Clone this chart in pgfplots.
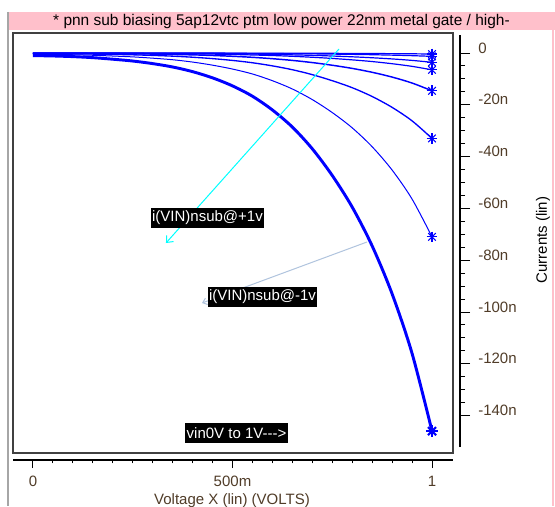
\documentclass[border=0pt]{standalone}
\usepackage{fontspec}
\setmainfont{Liberation Sans}
\usepackage{pgfplots}
\pgfplotsset{compat=1.18}
\usetikzlibrary{arrows.meta}
\definecolor{pinkbar}{RGB}{255,192,203}
\definecolor{lblcol}{RGB}{80,60,40}
\definecolor{steel}{RGB}{176,196,222}
\definecolor{cyanline}{RGB}{0,255,255}
\definecolor{pblue}{RGB}{0,0,255}
\newcommand{\fs}{\fontsize{11.25}{13}\selectfont}
\begin{document}
\begin{tikzpicture}
\clip (0,0) rectangle (416.25pt,-379.5pt);
\fill[white] (0,0) rectangle (416.25pt,-379.5pt);
\fill[pinkbar] (6pt,-9pt) rectangle (416.25pt,-22.5pt);
\draw[black!35, line width=1.5pt] (6.2pt,-9pt) -- (6.2pt,-379.5pt);
\draw[pinkbar, line width=1.5pt] (415pt,-22.5pt) -- (415pt,-379.5pt);
\node[anchor=base, inner sep=0pt] at (211.1pt,-19.5pt) {\fontsize{11.6}{13}\selectfont * pnn sub biasing 5ap12vtc ptm low power 22nm metal gate / high-};

% main plot box
\begin{axis}[at={(9.75pt,-339.75pt)}, anchor=south west, scale only axis,
  width=330pt, height=315pt,
  xmin=-0.0501, xmax=1.0526, ymin=-154.44, ymax=7.72,
  ticks=none, axis line style={draw=black!75, line width=1.2pt}]
\addplot[pblue, line width=0.9pt, smooth, tension=0.5] coordinates {(0,0)(0.2,-0.01)(0.4,-0.03)(0.6,-0.06)(0.7,-0.1)(0.8,-0.16)(0.9,-0.25)(0.95,-0.31)(1,-0.4)};
\addplot[pblue, line width=0.9pt, smooth, tension=0.5] coordinates {(0,-0.05)(0.2,-0.06)(0.4,-0.08)(0.5,-0.11)(0.6,-0.2)(0.7,-0.33)(0.8,-0.53)(0.85,-0.66)(0.9,-0.83)(0.95,-1.03)(1,-1.3)};
\addplot[pblue, line width=0.9pt, smooth, tension=0.5] coordinates {(0,-0.1)(0.2,-0.12)(0.4,-0.18)(0.5,-0.31)(0.6,-0.54)(0.7,-0.91)(0.75,-1.17)(0.8,-1.47)(0.85,-1.84)(0.9,-2.29)(0.95,-2.86)(1,-3.6)};
\addplot[pblue, line width=0.9pt, smooth, tension=0.5] coordinates {(0,-0.1)(0.2,-0.13)(0.3,-0.2)(0.4,-0.32)(0.5,-0.57)(0.6,-0.98)(0.65,-1.28)(0.7,-1.65)(0.75,-2.1)(0.8,-2.65)(0.85,-3.3)(0.9,-4.14)(0.95,-5.16)(1,-6.5)};
\addplot[pblue, line width=1.1pt, smooth, tension=0.5] coordinates {(0,-0.15)(0.1,-0.17)(0.2,-0.24)(0.3,-0.41)(0.4,-0.72)(0.45,-0.96)(0.5,-1.27)(0.55,-1.67)(0.6,-2.2)(0.65,-2.86)(0.7,-3.7)(0.75,-4.73)(0.8,-5.95)(0.85,-7.45)(0.9,-9.3)(0.95,-11.6)(1,-14.6)};
\addplot[pblue, line width=1.0pt, smooth, tension=0.5] coordinates {(0,-0.3)(0.05,-0.31)(0.1,-0.35)(0.15,-0.42)(0.2,-0.54)(0.25,-0.7)(0.3,-0.93)(0.35,-1.22)(0.4,-1.63)(0.45,-2.17)(0.5,-2.87)(0.55,-3.77)(0.6,-4.97)(0.65,-6.46)(0.7,-8.36)(0.75,-10.7)(0.8,-13.4)(0.85,-16.8)(0.9,-21.0)(0.95,-26.2)(1,-33.0)};
\addplot[pblue, line width=0.75pt, smooth, tension=0.5] coordinates {(0,-0.5)(0.05,-0.56)(0.1,-0.68)(0.15,-0.88)(0.2,-1.17)(0.25,-1.5)(0.3,-2.0)(0.35,-2.6)(0.4,-3.5)(0.45,-4.7)(0.5,-6.2)(0.55,-8.1)(0.6,-10.7)(0.65,-13.9)(0.7,-18.0)(0.75,-23.0)(0.8,-28.9)(0.85,-36.2)(0.9,-45.2)(0.95,-56.4)(1,-71.0)};
\addplot[pblue, line width=2.2pt, smooth, tension=0.5] coordinates {(0,-1.0)(0.05,-1.15)(0.1,-1.4)(0.15,-1.8)(0.2,-2.4)(0.25,-3.1)(0.3,-4.1)(0.35,-5.4)(0.4,-7.2)(0.45,-9.6)(0.5,-12.7)(0.55,-16.7)(0.6,-22.0)(0.65,-28.6)(0.7,-37.0)(0.75,-47.3)(0.8,-59.5)(0.85,-74.5)(0.9,-93.0)(0.95,-116.0)(1,-146.0)};
% end-point stars
\addplot[pblue, only marks, mark=+, mark size=4pt, line width=0.8pt] coordinates {(1,-0.4)(1,-1.3)(1,-3.6)(1,-6.5)(1,-14.6)(1,-33.0)(1,-71.0)};
\addplot[pblue, only marks, mark=x, mark size=4pt, line width=0.8pt] coordinates {(1,-0.4)(1,-1.3)(1,-3.6)(1,-6.5)(1,-14.6)(1,-33.0)(1,-71.0)};
\addplot[pblue, only marks, mark=+, mark size=4.3pt, line width=1.6pt] coordinates {(1,-146.0)};
\addplot[pblue, only marks, mark=x, mark size=4.3pt, line width=1.6pt] coordinates {(1,-146.0)};
% annotations
\draw[cyanline, line width=0.75pt, -{Straight Barb[length=4pt,width=7pt]}] (axis cs:0.7669,1.544) -- (axis cs:0.3333,-73.36);
\draw[steel, line width=0.75pt, -{Straight Barb[length=3pt,width=5pt]}] (axis cs:0.8371,-72.97) -- (axis cs:0.4236,-96.53);
\node[fill=black, text=white, inner xsep=1pt, inner ysep=0pt, minimum height=15pt, font=\fs] at (axis cs:0.4373,-63.71) {i(VIN)nsub@+1v};
\node[fill=black, text=white, inner xsep=1pt, inner ysep=0pt, minimum height=15pt, font=\fs] at (axis cs:0.5752,-94.02) {i(VIN)nsub@-1v};
\node[fill=black, text=white, inner xsep=1pt, inner ysep=0pt, minimum height=15pt, font=\fs] at (axis cs:0.5100,-146.7) {vin0V to 1V-{}-{}-{}>};
\end{axis}

% right y axis
\begin{axis}[at={(345pt,-335.25pt)}, anchor=south east, scale only axis,
  width=10pt, height=309pt, xmin=0, xmax=1, ymin=-152.12, ymax=6.95,
  axis y line*=right, axis x line=none,
  axis line style={black, line width=1.1pt},
  tick align=outside, major tick length=7.5pt, minor tick length=3.75pt,
  tick style={black, line width=0.75pt},
  ytick={-140,-120,-100,-80,-60,-40,-20,0},
  yticklabels={-140n,-120n,-100n,-80n,-60n,-40n,-20n,0},
  minor y tick num=3,
  yticklabel style={anchor=base west, font=\fs, text=lblcol, inner sep=0pt, xshift=6pt}]
\addplot[draw=none] coordinates {(0,0)};
\end{axis}

% bottom x axis
\begin{axis}[at={(9.75pt,-345pt)}, anchor=south west, scale only axis,
  width=330pt, height=5pt, xmin=-0.0501, xmax=1.0526, ymin=0, ymax=1,
  axis x line*=bottom, axis y line=none,
  axis line style={black, line width=1.1pt},
  tick align=outside, major tick length=6pt, minor tick length=2.6pt,
  tick style={black, line width=0.75pt},
  xtick={0,0.5,1}, xticklabels={0,500m,1}, minor x tick num=9,
  xticklabel style={anchor=base, font=\fs, text=lblcol, inner sep=0pt, yshift=-14pt}]
\addplot[draw=none] coordinates {(0,0.5)};
\end{axis}

\node[anchor=base, inner sep=0pt, text=lblcol] at (174pt,-378pt) {\fs Voltage X (lin) (VOLTS)};
\node[rotate=90, anchor=center, inner sep=0pt] at (407.25pt,-180pt) {\fs Currents (lin)};
\end{tikzpicture}
\end{document}
